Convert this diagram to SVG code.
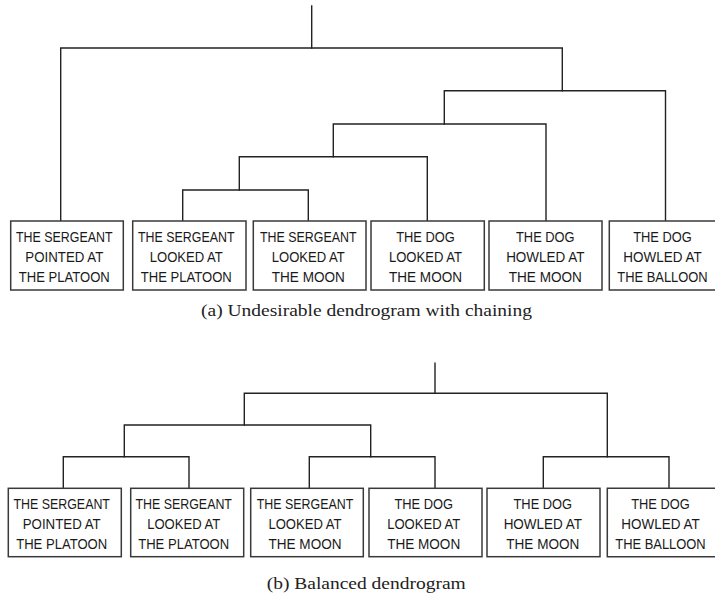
<svg xmlns="http://www.w3.org/2000/svg" width="715" height="596" viewBox="0 0 715 596">
  <style>
    .box { fill: #ffffff; stroke: #3a3a3a; stroke-width: 1.5; }
    .lbl { font-family: "Liberation Sans", Arial, sans-serif; font-size: 14.5px; fill: #1a1a1a; text-anchor: middle; }
    .link { fill: none; stroke: #222222; stroke-width: 1.4; stroke-linecap: square; }
    .cap { font-family: "Liberation Serif", "Times New Roman", serif; font-size: 17.5px; fill: #222222; text-anchor: middle; }
  </style>
  <rect width="715" height="596" fill="#ffffff"/>

  <!-- (a) chained dendrogram: connectors -->
  <g id="links-a" class="link">
    <path d="M311.7 6 V48"/>
    <path d="M60.7 221 V48 H562.3 V90.7"/>
    <path d="M444.3 124 V90.7 H665.5 V221"/>
    <path d="M333.3 156.7 V124 H546 V221"/>
    <path d="M239.3 190 V156.7 H427.3 V221"/>
    <path d="M182.7 221 V190 H308.3 V221"/>
  </g>

  <!-- (a) leaves -->
  <g id="a-leaf1">
    <rect class="box" x="10.7" y="221" width="112.6" height="69"/>
    <text class="lbl" x="64.3" y="241.6" textLength="96.5" lengthAdjust="spacingAndGlyphs">THE SERGEANT</text>
    <text class="lbl" x="64.3" y="261.6" textLength="77.9" lengthAdjust="spacingAndGlyphs">POINTED AT</text>
    <text class="lbl" x="64.3" y="281.6" textLength="91" lengthAdjust="spacingAndGlyphs">THE PLATOON</text>
  </g>
  <g id="a-leaf2">
    <rect class="box" x="132.7" y="221" width="113.3" height="69"/>
    <text class="lbl" x="186.3" y="241.6" textLength="96.5" lengthAdjust="spacingAndGlyphs">THE SERGEANT</text>
    <text class="lbl" x="186.3" y="261.6" textLength="73.1" lengthAdjust="spacingAndGlyphs">LOOKED AT</text>
    <text class="lbl" x="186.3" y="281.6" textLength="91" lengthAdjust="spacingAndGlyphs">THE PLATOON</text>
  </g>
  <g id="a-leaf3">
    <rect class="box" x="253.3" y="221" width="112.7" height="69"/>
    <text class="lbl" x="308.3" y="241.6" textLength="96.5" lengthAdjust="spacingAndGlyphs">THE SERGEANT</text>
    <text class="lbl" x="308.3" y="261.6" textLength="73.1" lengthAdjust="spacingAndGlyphs">LOOKED AT</text>
    <text class="lbl" x="308.3" y="281.6" textLength="73" lengthAdjust="spacingAndGlyphs">THE MOON</text>
  </g>
  <g id="a-leaf4">
    <rect class="box" x="371" y="221" width="113.3" height="69"/>
    <text class="lbl" x="425.5" y="241.6" textLength="58.6" lengthAdjust="spacingAndGlyphs">THE DOG</text>
    <text class="lbl" x="425.5" y="261.6" textLength="73.1" lengthAdjust="spacingAndGlyphs">LOOKED AT</text>
    <text class="lbl" x="425.5" y="281.6" textLength="73" lengthAdjust="spacingAndGlyphs">THE MOON</text>
  </g>
  <g id="a-leaf5">
    <rect class="box" x="489" y="221" width="113" height="69"/>
    <text class="lbl" x="545.3" y="241.6" textLength="58.6" lengthAdjust="spacingAndGlyphs">THE DOG</text>
    <text class="lbl" x="545.3" y="261.6" textLength="78.3" lengthAdjust="spacingAndGlyphs">HOWLED AT</text>
    <text class="lbl" x="545.3" y="281.6" textLength="73" lengthAdjust="spacingAndGlyphs">THE MOON</text>
  </g>
  <g id="a-leaf6">
    <!-- this box runs off the right edge, so its right side is not drawn -->
    <path class="box" d="M715 221 H609.3 V290 H715"/>
    <text class="lbl" x="662.5" y="241.6" textLength="58.6" lengthAdjust="spacingAndGlyphs">THE DOG</text>
    <text class="lbl" x="662.5" y="261.6" textLength="78.3" lengthAdjust="spacingAndGlyphs">HOWLED AT</text>
    <text class="lbl" x="662.5" y="281.6" textLength="90.4" lengthAdjust="spacingAndGlyphs">THE BALLOON</text>
  </g>

  <text class="cap" x="366.5" y="316" textLength="331" lengthAdjust="spacingAndGlyphs">(a) Undesirable dendrogram with chaining</text>

  <!-- (b) balanced dendrogram: connectors -->
  <g id="links-b" class="link">
    <path d="M435 363.3 V393.3"/>
    <path d="M244.3 425 V393.3 H607.3 V456.7"/>
    <path d="M124.3 456.7 V425 H370.7 V456.7"/>
    <path d="M63.3 488.3 V456.7 H189 V488.3"/>
    <path d="M309.3 488.3 V456.7 H435 V488.3"/>
    <path d="M543.3 488.3 V456.7 H669 V488.3"/>
  </g>

  <!-- (b) leaves -->
  <g id="b-leaf1">
    <rect class="box" x="8.3" y="488.3" width="113" height="68.4"/>
    <text class="lbl" x="61.7" y="508.6" textLength="96.5" lengthAdjust="spacingAndGlyphs">THE SERGEANT</text>
    <text class="lbl" x="61.7" y="528.6" textLength="77.9" lengthAdjust="spacingAndGlyphs">POINTED AT</text>
    <text class="lbl" x="61.7" y="548.6" textLength="91" lengthAdjust="spacingAndGlyphs">THE PLATOON</text>
  </g>
  <g id="b-leaf2">
    <rect class="box" x="130.7" y="488.3" width="113" height="68.4"/>
    <text class="lbl" x="183.7" y="508.6" textLength="96.5" lengthAdjust="spacingAndGlyphs">THE SERGEANT</text>
    <text class="lbl" x="183.7" y="528.6" textLength="73.1" lengthAdjust="spacingAndGlyphs">LOOKED AT</text>
    <text class="lbl" x="183.7" y="548.6" textLength="91" lengthAdjust="spacingAndGlyphs">THE PLATOON</text>
  </g>
  <g id="b-leaf3">
    <rect class="box" x="250.7" y="488.3" width="112.6" height="68.4"/>
    <text class="lbl" x="305" y="508.6" textLength="96.5" lengthAdjust="spacingAndGlyphs">THE SERGEANT</text>
    <text class="lbl" x="305" y="528.6" textLength="73.1" lengthAdjust="spacingAndGlyphs">LOOKED AT</text>
    <text class="lbl" x="305" y="548.6" textLength="73" lengthAdjust="spacingAndGlyphs">THE MOON</text>
  </g>
  <g id="b-leaf4">
    <rect class="box" x="369" y="488.3" width="113" height="68.4"/>
    <text class="lbl" x="423.7" y="508.6" textLength="58.6" lengthAdjust="spacingAndGlyphs">THE DOG</text>
    <text class="lbl" x="423.7" y="528.6" textLength="73.1" lengthAdjust="spacingAndGlyphs">LOOKED AT</text>
    <text class="lbl" x="423.7" y="548.6" textLength="73" lengthAdjust="spacingAndGlyphs">THE MOON</text>
  </g>
  <g id="b-leaf5">
    <rect class="box" x="487" y="488.3" width="113" height="68.4"/>
    <text class="lbl" x="542.8" y="508.6" textLength="58.6" lengthAdjust="spacingAndGlyphs">THE DOG</text>
    <text class="lbl" x="542.8" y="528.6" textLength="78.3" lengthAdjust="spacingAndGlyphs">HOWLED AT</text>
    <text class="lbl" x="542.8" y="548.6" textLength="73" lengthAdjust="spacingAndGlyphs">THE MOON</text>
  </g>
  <g id="b-leaf6">
    <!-- this box runs off the right edge, so its right side is not drawn -->
    <path class="box" d="M715 488.3 H607.3 V556.7 H715"/>
    <text class="lbl" x="660.5" y="508.6" textLength="58.6" lengthAdjust="spacingAndGlyphs">THE DOG</text>
    <text class="lbl" x="660.5" y="528.6" textLength="78.3" lengthAdjust="spacingAndGlyphs">HOWLED AT</text>
    <text class="lbl" x="660.5" y="548.6" textLength="90.4" lengthAdjust="spacingAndGlyphs">THE BALLOON</text>
  </g>

  <text class="cap" x="366.2" y="588.5" textLength="199" lengthAdjust="spacingAndGlyphs">(b) Balanced dendrogram</text>
</svg>
